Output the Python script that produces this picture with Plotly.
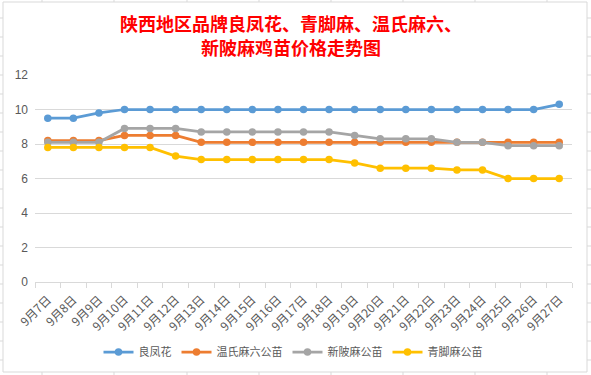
import plotly.graph_objects as go

dates = ["9月7日", "9月8日", "9月9日", "9月10日", "9月11日", "9月12日", "9月13日",
         "9月14日", "9月15日", "9月16日", "9月17日", "9月18日", "9月19日", "9月20日",
         "9月21日", "9月22日", "9月23日", "9月24日", "9月25日", "9月26日", "9月27日"]
liangfenghua = [9.5, 9.5, 9.8, 10, 10, 10, 10, 10, 10, 10, 10, 10, 10, 10, 10, 10, 10, 10, 10, 10, 10.3]
wenshi_maliu = [8.2, 8.2, 8.2, 8.5, 8.5, 8.5, 8.1, 8.1, 8.1, 8.1, 8.1, 8.1, 8.1, 8.1, 8.1, 8.1, 8.1, 8.1, 8.1, 8.1, 8.1]
xinpima = [8.1, 8.1, 8.1, 8.9, 8.9, 8.9, 8.7, 8.7, 8.7, 8.7, 8.7, 8.7, 8.5, 8.3, 8.3, 8.3, 8.1, 8.1, 7.9, 7.9, 7.9]
qingjiaoma = [7.8, 7.8, 7.8, 7.8, 7.8, 7.3, 7.1, 7.1, 7.1, 7.1, 7.1, 7.1, 6.9, 6.6, 6.6, 6.6, 6.5, 6.5, 6.0, 6.0, 6.0]

series_names = ["良凤花", "温氏麻六公苗", "新陂麻公苗", "青脚麻公苗"]
series_values = [liangfenghua, wenshi_maliu, xinpima, qingjiaoma]
colors = ["#5B9BD5", "#ED7D31", "#A5A5A5", "#FFC000"]
title_lines = ["陕西地区品牌良凤花、青脚麻、温氏麻六、", "新陂麻鸡苗价格走势图"]

W, H = 591, 375
ML, MR, MT, MB = 35, 19, 75, 93
PW, PH = W - ML - MR, H - MT - MB

def px(x):
    return (x - ML) / PW

def py(y):
    return (H - MB - y) / PH

fig = go.Figure()
for name, vals, c in zip(series_names, series_values, colors):
    fig.add_trace(go.Scatter(
        x=dates, y=vals, name=name, mode="lines+markers",
        line=dict(color=c, width=2.75),
        marker=dict(color=c, size=7.5),
    ))

grid = "#d9d9d9"
shapes = []
shapes.append(dict(type="rect", xref="paper", yref="paper",
                   x0=px(3), x1=px(587), y0=py(2), y1=py(372),
                   line=dict(color=grid, width=1), layer="below"))
rows = [18 + 19 * k for k in range(19)]
cols = [42, 114, 187, 259, 331, 403, 475, 547]
for r in rows:
    shapes.append(dict(type="line", xref="paper", yref="paper",
                       x0=px(0), x1=px(3), y0=py(r), y1=py(r),
                       line=dict(color=grid, width=1)))
    shapes.append(dict(type="line", xref="paper", yref="paper",
                       x0=px(587), x1=px(591), y0=py(r), y1=py(r),
                       line=dict(color=grid, width=1)))
for c in cols:
    shapes.append(dict(type="line", xref="paper", yref="paper",
                       x0=px(c), x1=px(c), y0=py(0), y1=py(2),
                       line=dict(color=grid, width=1)))
    shapes.append(dict(type="line", xref="paper", yref="paper",
                       x0=px(c), x1=px(c), y0=py(372), y1=py(375),
                       line=dict(color=grid, width=1)))

annotations = []
for line, yc in zip(title_lines, [23, 47]):
    annotations.append(dict(
        text=line, xref="paper", yref="paper", x=px(290.5), y=py(yc),
        xanchor="center", yanchor="middle", showarrow=False,
        font=dict(family="Noto Sans CJK SC", size=18, color="#FF0000", weight="bold"),
    ))

fig.update_layout(
    width=W, height=H,
    margin=dict(l=ML, r=MR, t=MT, b=MB, autoexpand=False),
    paper_bgcolor="white", plot_bgcolor="white",
    font=dict(family="Noto Sans CJK SC", color="#595959", size=11),
    xaxis=dict(
        type="category", range=[-0.5, len(dates) - 0.5],
        tickangle=-45, showgrid=False, automargin=False,
        showline=True, linecolor=grid, linewidth=1,
        ticks="outside", tickson="boundaries", ticklen=5, tickcolor=grid,
        tickfont=dict(size=12, color="#595959"),
        ticklabelstandoff=5,
        zeroline=False,
    ),
    yaxis=dict(
        range=[0, 12], tickvals=[0, 2, 4, 6, 8, 10, 12], automargin=False,
        showgrid=True, gridcolor=grid, gridwidth=1,
        zeroline=False, showline=False, ticks="",
        tickfont=dict(family="Liberation Sans", size=12, color="#595959"),
        ticklabelstandoff=6,
    ),
    legend=dict(
        orientation="h", x=293 / W, xanchor="center", xref="container",
        y=1 - 352 / H, yanchor="middle", yref="container",
        font=dict(size=11, color="#595959"),
        itemwidth=30,
    ),
    shapes=shapes,
    annotations=annotations,
)

fig.write_html("out.html", config={"displayModeBar": False},
               post_script="document.body.style.margin='0px';document.body.style.overflow='hidden';")
